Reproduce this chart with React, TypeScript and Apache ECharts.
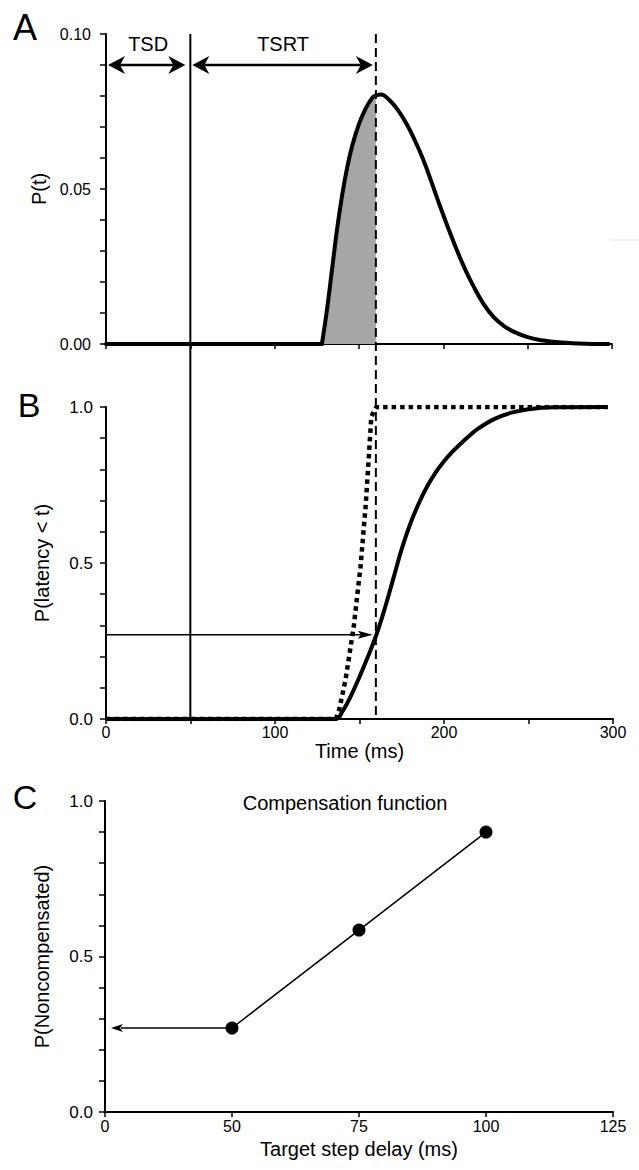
import React, { useEffect, useRef } from "react";
import * as echarts from "echarts";

// ---------- Data ----------
// Panel A: probability density P(t) of saccade latency (time in ms)
const pdfTimes = [0, 128, 131, 134, 137, 140, 143, 146, 150, 154, 158, 160, 163, 168, 173, 178, 183, 188, 193, 198, 203, 208, 213, 218, 224, 230, 236, 242, 250, 258, 270, 285, 298];
const pdfValues = [0, 0, 0.011, 0.024, 0.037, 0.048, 0.057, 0.064, 0.071, 0.076, 0.0795, 0.0802, 0.0805, 0.0787, 0.0755, 0.0712, 0.0658, 0.0596, 0.0522, 0.0445, 0.0372, 0.0303, 0.024, 0.0185, 0.0128, 0.0086, 0.0058, 0.0039, 0.0022, 0.0012, 0.0005, 0.0001, 0];
const pdfOnset = 128; // latency onset (ms)

// Panel B: cumulative P(latency < t)
const cdfTimes = [0, 136, 140, 145, 150, 155, 160, 165, 170, 175, 180, 185, 190, 195, 200, 205, 210, 215, 220, 230, 240, 250, 265, 296];
const cdfValues = [0, 0, 0.025, 0.075, 0.135, 0.2, 0.27, 0.355, 0.45, 0.545, 0.625, 0.69, 0.745, 0.79, 0.826, 0.857, 0.883, 0.908, 0.93, 0.962, 0.982, 0.993, 0.999, 1.0];
const stepTimes = [0, 136, 138, 141.7, 146.6, 150.6, 153.6, 155.5, 157, 160, 297];
const stepValues = [0, 0, 0.03, 0.125, 0.296, 0.488, 0.68, 0.84, 0.97, 1.0, 1.0];

// Panel C: compensation function
const delayLabels = ["0", "50", "75", "100", "125"];
const compValues: (number | null)[] = [null, 0.27, 0.585, 0.9, null];

// Markers
const TSD = 50; // target step delay (ms)
const TSRT = 160; // end of target step reaction time (ms)
const arrowLevelA = 0.09;
const labelLevelA = 0.0968;
const crossLevel = 0.27; // P(latency < TSRT)

const FONT = '"Liberation Sans", Arial, Helvetica, sans-serif';
const BLACK = "#000";

const pairs = (xs: number[], ys: number[]) => xs.map((x, i) => [x, ys[i]]);

export default function App() {
  const ref = useRef<HTMLDivElement>(null);

  useEffect(() => {
    const chart = echarts.init(ref.current!, null, { renderer: "svg" });

    const axisLine = { show: true, onZero: false, lineStyle: { color: BLACK, width: 2 } };
    const tick = { show: true, length: 6, lineStyle: { color: BLACK, width: 1.5 } };
    const minor = { show: true, splitNumber: 5, length: 6, lineStyle: { color: BLACK, width: 1.5 } };
    const nameStyle = { fontSize: 20, color: BLACK, fontFamily: FONT };

    const pdfData = pairs(pdfTimes, pdfValues);
    const pdfFlat = pdfData.filter((d) => d[0] <= pdfOnset);
    const pdfRise = pdfData.filter((d) => d[0] >= pdfOnset);
    const fillData = pdfRise.filter((d) => d[0] <= TSRT);

    const option: any = {
      animation: false,
      backgroundColor: "#fff",
      textStyle: { fontFamily: FONT },
      grid: [
        { left: 106, top: 34, width: 506, height: 310, containLabel: false, outerBoundsMode: "none" },
        { left: 106, top: 407, width: 507, height: 312, containLabel: false, outerBoundsMode: "none" },
        { left: 105, top: 801, width: 508, height: 311, containLabel: false, outerBoundsMode: "none" },
      ],
      xAxis: [
        {
          gridIndex: 0, type: "value", min: 0, max: 300, interval: 50,
          axisLine, axisTick: { ...tick, length: 5 }, axisLabel: { show: false }, splitLine: { show: false },
        },
        {
          gridIndex: 1, type: "value", min: 0, max: 300, interval: 50,
          axisLine, axisTick: { ...tick, length: 5 }, splitLine: { show: false },
          axisLabel: {
            show: true, margin: 5, fontSize: 16, color: BLACK, fontFamily: FONT,
            formatter: (v: number) => (v % 100 === 0 ? String(v) : ""),
          },
          name: "Time (ms)", nameLocation: "middle", nameGap: 22, nameTextStyle: nameStyle,
        },
        {
          gridIndex: 2, type: "category", data: delayLabels, boundaryGap: false,
          axisLine, axisTick: { ...tick, length: 5 }, splitLine: { show: false },
          axisLabel: { show: true, margin: 6, fontSize: 16, color: BLACK, fontFamily: FONT, interval: 0 },
          name: "Target step delay (ms)", nameLocation: "middle", nameGap: 27, nameTextStyle: nameStyle,
        },
      ],
      yAxis: [
        {
          gridIndex: 0, type: "value", min: 0, max: 0.1, interval: 0.05,
          axisLine, axisTick: tick, minorTick: minor, splitLine: { show: false }, minorSplitLine: { show: false },
          axisLabel: { margin: 15, fontSize: 16, color: BLACK, fontFamily: FONT, formatter: (v: number) => v.toFixed(2) },
          name: "P(t)", nameLocation: "middle", nameGap: 52, nameTextStyle: nameStyle,
        },
        {
          gridIndex: 1, type: "value", min: 0, max: 1, interval: 0.5,
          axisLine, axisTick: tick, minorTick: minor, splitLine: { show: false }, minorSplitLine: { show: false },
          axisLabel: { margin: 13, fontSize: 17, color: BLACK, fontFamily: FONT, formatter: (v: number) => v.toFixed(1) },
          name: "P(latency < t)", nameLocation: "middle", nameGap: 54, nameTextStyle: nameStyle,
        },
        {
          gridIndex: 2, type: "value", min: 0, max: 1, interval: 0.5,
          axisLine, axisTick: tick, minorTick: minor, splitLine: { show: false }, minorSplitLine: { show: false },
          axisLabel: { margin: 12, fontSize: 17, color: BLACK, fontFamily: FONT, formatter: (v: number) => v.toFixed(1) },
          name: "P(Noncompensated)", nameLocation: "middle", nameGap: 53, nameTextStyle: nameStyle,
        },
      ],
      series: [
        {
          type: "line", xAxisIndex: 0, yAxisIndex: 0, data: fillData, symbol: "none",
          smooth: 0.4, lineStyle: { width: 0, opacity: 0 },
          areaStyle: { color: "#a6a6a6", opacity: 1 }, z: 1, silent: true,
        },
        {
          type: "line", xAxisIndex: 0, yAxisIndex: 0, data: pdfFlat, symbol: "none",
          lineStyle: { color: BLACK, width: 4, cap: "round" }, z: 3,
        },
        {
          type: "line", xAxisIndex: 0, yAxisIndex: 0, data: pdfRise, symbol: "none",
          smooth: 0.4, lineStyle: { color: BLACK, width: 4, join: "round", cap: "round" }, z: 3,
        },
        {
          type: "line", xAxisIndex: 1, yAxisIndex: 1, data: pairs(stepTimes, stepValues), symbol: "none",
          lineStyle: { color: BLACK, width: 4.5, type: [4.5, 4], cap: "butt" }, z: 3,
        },
        {
          type: "line", xAxisIndex: 1, yAxisIndex: 1, data: pairs(cdfTimes, cdfValues), symbol: "none",
          smooth: 0.4, lineStyle: { color: BLACK, width: 4, join: "round" }, z: 4,
        },
        {
          type: "line", xAxisIndex: 2, yAxisIndex: 2, data: compValues, symbol: "circle", symbolSize: 13,
          showSymbol: true, itemStyle: { color: BLACK }, lineStyle: { color: BLACK, width: 1.5 }, z: 5,
        },
      ],
    };

    chart.setOption(option);

    const P = (g: number, x: number, y: number) =>
      chart.convertToPixel({ gridIndex: g } as any, [x, y]) as unknown as number[];

    const head = (tx: number, ty: number, dir: number, len: number, half: number, notch: number) => ({
      type: "polygon",
      z: 100,
      shape: {
        points: [
          [tx, ty],
          [tx - dir * len, ty - half],
          [tx - dir * (len - notch), ty],
          [tx - dir * len, ty + half],
        ],
      },
      style: { fill: BLACK, stroke: "none" },
    });
    const seg = (x1: number, y1: number, x2: number, y2: number, w: number, dash?: number[]) => ({
      type: "line",
      z: 100,
      shape: { x1, y1, x2, y2 },
      style: { stroke: BLACK, lineWidth: w, lineDash: dash || null },
    });
    const txt = (x: number, y: number, text: string, size: number) => ({
      type: "text",
      z: 100,
      style: { x, y, text, font: `${size}px ${FONT}`, fill: BLACK, textAlign: "center", textVerticalAlign: "middle" },
    });

    const [x0, yTopA] = P(0, 0, 0.1);
    const [xTSD] = P(0, TSD, 0);
    const [xTSRT] = P(0, TSRT, 0);
    const yBotB = P(1, 0, 0)[1];
    const yArr = P(0, 0, arrowLevelA)[1];
    const yLab = P(0, 0, labelLevelA)[1];
    const [, yCross] = P(1, 0, crossLevel);
    const [cx0] = P(2, 0, 0);
    const [cx1, cy1] = P(2, 1, compValues[1] as number);

    const bigLen = 17, bigHalf = 9, bigNotch = 5;
    const elements: any[] = [
      // vertical markers spanning panels A and B
      seg(xTSD, yTopA, xTSD, yBotB, 2),
      seg(xTSRT, yTopA, xTSRT, yBotB, 2, [9, 5]),
      // TSD double arrow
      seg(x0 + 2 + bigLen - bigNotch, yArr, xTSD - 5 - bigLen + bigNotch, yArr, 2.5),
      head(x0 + 2, yArr, -1, bigLen, bigHalf, bigNotch),
      head(xTSD - 5, yArr, 1, bigLen, bigHalf, bigNotch),
      // TSRT double arrow
      seg(xTSD + 2 + bigLen - bigNotch, yArr, xTSRT - 3 - bigLen + bigNotch, yArr, 2.5),
      head(xTSD + 2, yArr, -1, bigLen, bigHalf, bigNotch),
      head(xTSRT - 3, yArr, 1, bigLen, bigHalf, bigNotch),
      txt((x0 + xTSD) / 2, yLab, "TSD", 20),
      txt((xTSD + xTSRT) / 2, yLab, "TSRT", 20),
      // panel B arrow
      seg(x0, yCross, xTSRT - 3 - 12, yCross, 1.5),
      head(xTSRT - 3, yCross, 1, 15, 4, 3),
      // panel C arrow
      seg(cx1, cy1, cx0 + 6 + 10, cy1, 1.5),
      head(cx0 + 6, cy1, -1, 12, 4, 3),
      // title of panel C
      txt((cx0 + P(2, 4, 0)[0]) / 2 - 14, P(2, 0, 1)[1] + 2, "Compensation function", 20),
      // panel letters
      txt(25, 27, "A", 36),
      txt(29, 405, "B", 34),
      txt(25, 797, "C", 34),
      // faint scan artefact
      { type: "line", z: 1, shape: { x1: 610, y1: 240, x2: 639, y2: 240 }, style: { stroke: "#e4e4e4", lineWidth: 1 } },
    ];

    chart.setOption({ graphic: { elements } });

    return () => chart.dispose();
  }, []);

  return (
    <div
      ref={ref}
      style={{ position: "fixed", left: 0, top: 0, width: 639, height: 1170, background: "#fff" }}
    />
  );
}
